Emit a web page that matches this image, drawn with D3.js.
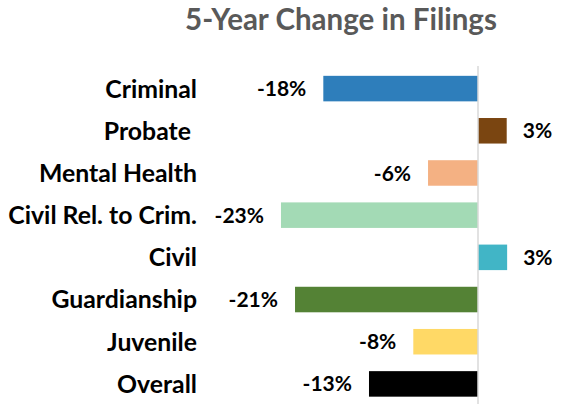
<!DOCTYPE html>
<html>
<head>
<meta charset="utf-8">
<script src="https://cdn.jsdelivr.net/npm/d3@7"></script>
<style>
  body { margin: 0; background: #fff; }
  svg { display: block; font-family: Lato, "Open Sans", sans-serif; }
</style>
</head>
<body>
<svg id="chart"></svg>
<script>
// categories, top to bottom (note the trailing space in "Probate ")
var categories = ["Criminal", "Probate ", "Mental Health", "Civil Rel. to Crim.",
  "Civil", "Guardianship", "Juvenile", "Overall"];
// 5-year change, percent
var changes = [-18.05, 3.35, -5.83, -22.99, 3.4, -21.35, -7.55, -12.72];
var valueLabels = ["-18%", "3%", "-6%", "-23%", "3%", "-21%", "-8%", "-13%"];
var barColors = ["#2e7ebb", "#7a4511", "#f4b183", "#a3dab5",
  "#41b5c6", "#548235", "#ffd966", "#000000"];
var title = "5-Year Change in Filings";

function main() {
    const width = 563;
    const height = 404;

    const svg = d3.select('#chart')
      .attr('width', width)
      .attr('height', height);

    const data = categories.map(function (c, i) {
        return { name: c, value: changes[i], label: valueLabels[i], color: barColors[i] };
    });

    // x scale: about 8.57 px per percent, zero at 478
    const xScale = d3.scaleLinear()
      .domain([-25, 10])
      .range([263.75, 563.7]);

    const yScale = d3.scaleBand()
      .domain(categories)
      .range([67.5, 405])
      .paddingInner(0.395)
      .paddingOuter(0.1975);

    // title
    svg.append('text')
      .attr('x', 341)
      .attr('y', 30)
      .attr('text-anchor', 'middle')
      .attr('fill', '#595959')
      .style('font-size', '29.5px')
      .style('font-weight', 'bold')
      .text(title);

    // bars
    svg.selectAll('rect.bar')
      .data(data)
      .enter()
      .append('rect')
      .attr('class', 'bar')
      .attr('x', function (d) { return xScale(Math.min(0, d.value)); })
      .attr('width', function (d) { return Math.abs(xScale(d.value) - xScale(0)); })
      .attr('y', function (d) { return yScale(d.name); })
      .attr('height', yScale.bandwidth())
      .attr('fill', function (d) { return d.color; });

    // zero line
    svg.append('line')
      .attr('x1', xScale(0))
      .attr('x2', xScale(0))
      .attr('y1', 66)
      .attr('y2', height)
      .attr('stroke', '#d9d9d9')
      .attr('stroke-width', 1.5);

    // category labels (y axis without line/ticks)
    const yAxis = d3.axisLeft(yScale).tickSize(0).tickPadding(0);
    const yg = svg.append('g')
      .attr('transform', 'translate(197, 0)')
      .call(yAxis);
    yg.select('.domain').remove();
    yg.selectAll('text')
      .attr('fill', '#000')
      .attr('dy', '0.36em')
      .style('font-family', 'Lato, "Open Sans", sans-serif')
      .style('font-size', '24.8px')
      .style('font-weight', 'bold')
      .style('white-space', 'pre');

    // value labels
    svg.selectAll('text.val')
      .data(data)
      .enter()
      .append('text')
      .attr('class', 'val')
      .attr('x', function (d) { return d.value < 0 ? xScale(d.value) - 17 : xScale(d.value) + 16; })
      .attr('y', function (d) { return yScale(d.name) + yScale.bandwidth() / 2; })
      .attr('dy', '0.36em')
      .attr('text-anchor', function (d) { return d.value < 0 ? 'end' : 'start'; })
      .attr('fill', '#000')
      .style('font-size', '21px')
      .style('font-weight', 'bold')
      .text(function (d) { return d.label; });
}
main();
</script>
</body>
</html>
